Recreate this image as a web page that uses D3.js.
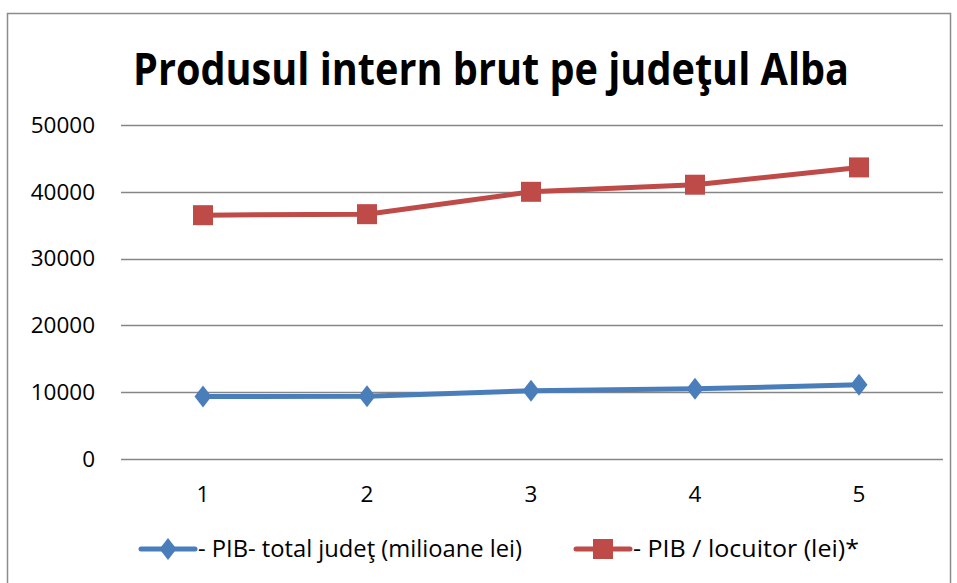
<!DOCTYPE html>
<html>
<head>
<meta charset="utf-8">
<script src="https://cdn.jsdelivr.net/npm/d3@7"></script>
<style>
  html, body { margin: 0; padding: 0; background: #fff; }
  svg { display: block; }
</style>
</head>
<body>
<svg id="chart" width="957" height="583"></svg>
<script>
const categories = ["1", "2", "3", "4", "5"];
const pibTotal = [9340, 9380, 10230, 10500, 11100];
const pibLocuitor = [36500, 36650, 40000, 41060, 43650];
const yTicks = [0, 10000, 20000, 30000, 40000, 50000];
const title = "Produsul intern brut pe judeţul Alba";
const seriesNames = ["- PIB- total judeţ (milioane lei)", "- PIB / locuitor (lei)*"];

const blue = "#4A7EBB", red = "#BE4B48";
const font = "'Open Sans', 'DejaVu Sans', sans-serif";

const svg = d3.select("#chart");

// outer border
svg.append("rect").attr("x", 7.5).attr("y", 13.5).attr("width", 943).attr("height", 620)
  .attr("fill", "#fff").attr("stroke", "#8c8c8c").attr("stroke-width", 1.5);

const x = d3.scalePoint().domain(categories).range([121, 941]).padding(0.5);
const y = d3.scaleLinear().domain([0, 50000]).range([459, 125]);

// title
svg.append("text").attr("x", 491).attr("y", 85).attr("text-anchor", "middle")
  .attr("font-family", font).attr("font-weight", "bold").attr("font-size", 45)
  .attr("textLength", 716).attr("lengthAdjust", "spacingAndGlyphs")
  .attr("fill", "#000").text(title);

// gridlines
svg.append("g").selectAll("line").data(yTicks).join("line")
  .attr("x1", 121).attr("x2", 943)
  .attr("y1", d => Math.round(y(d)) + 0.5).attr("y2", d => Math.round(y(d)) + 0.5)
  .attr("stroke", "#868686").attr("stroke-width", 1.5);

// y labels
svg.append("g").selectAll("text").data(yTicks).join("text")
  .attr("x", 95).attr("y", d => y(d)).attr("dy", "0.35em").attr("text-anchor", "end")
  .attr("font-family", font).attr("font-size", 22.5).attr("fill", "#000")
  .text(d => d);

// x labels
svg.append("g").selectAll("text").data(categories).join("text")
  .attr("x", d => x(d)).attr("y", 494).attr("dy", "0.35em").attr("text-anchor", "middle")
  .attr("font-family", font).attr("font-size", 22.5).attr("fill", "#000")
  .text(d => d);

const line = d3.line().x((d, i) => x(categories[i])).y(d => y(d));

function diamond(g, cx, cy) {
  g.append("path").attr("d", `M${cx},${cy - 11} L${cx + 8.5},${cy} L${cx},${cy + 11} L${cx - 8.5},${cy} Z`)
    .attr("fill", blue);
}
function square(g, cx, cy) {
  g.append("rect").attr("x", cx - 10).attr("y", cy - 10).attr("width", 20).attr("height", 20)
    .attr("fill", red);
}

// blue series
const gb = svg.append("g");
gb.append("path").datum(pibTotal).attr("d", line).attr("fill", "none")
  .attr("stroke", blue).attr("stroke-width", 5).attr("stroke-linejoin", "round");
pibTotal.forEach((v, i) => diamond(gb, x(categories[i]), y(v)));

// red series
const gr = svg.append("g");
gr.append("path").datum(pibLocuitor).attr("d", line).attr("fill", "none")
  .attr("stroke", red).attr("stroke-width", 5).attr("stroke-linejoin", "round");
pibLocuitor.forEach((v, i) => square(gr, x(categories[i]), y(v)));

// legend
const ly = 549;
const legendItems = [
  { name: seriesNames[0], color: blue, x0: 141, marker: diamond, len: 324 },
  { name: seriesNames[1], color: red, x0: 576, marker: square, len: 226 }
];
legendItems.forEach(it => {
  const g = svg.append("g");
  g.append("line").attr("x1", it.x0).attr("x2", it.x0 + 54).attr("y1", ly).attr("y2", ly)
    .attr("stroke", it.color).attr("stroke-width", 5).attr("stroke-linecap", "round");
  it.marker(g, it.x0 + 27, ly);
  g.append("text").attr("x", it.x0 + 57).attr("y", ly).attr("dy", "0.35em")
    .attr("font-family", font).attr("font-size", 23.5).attr("fill", "#000")
    .attr("textLength", it.len).attr("lengthAdjust", "spacingAndGlyphs").text(it.name);
});
</script>
</body>
</html>
